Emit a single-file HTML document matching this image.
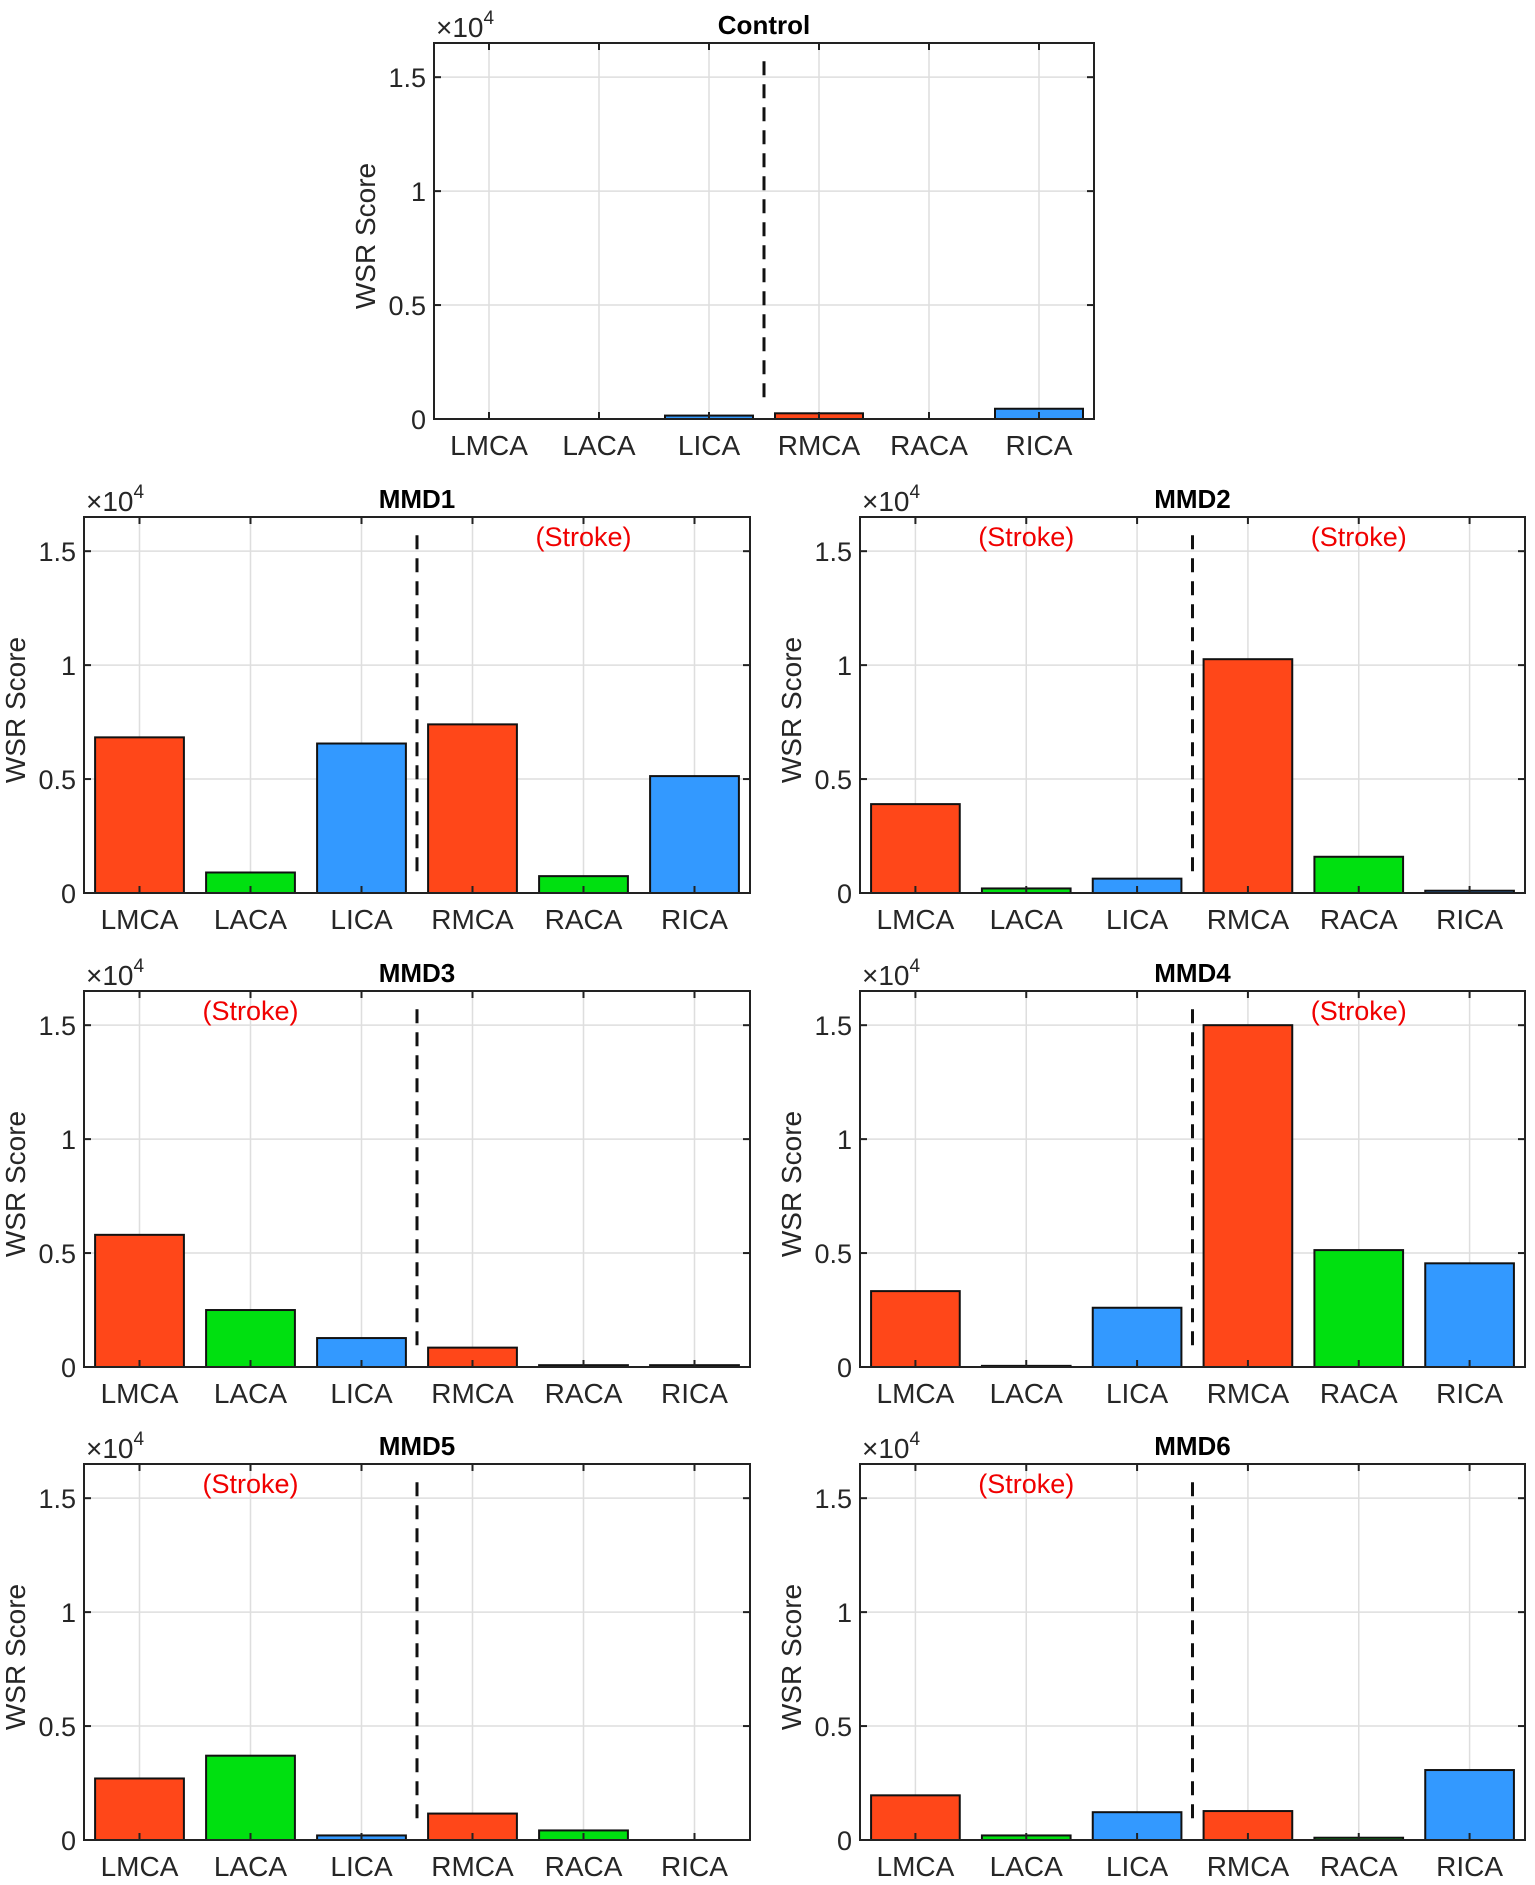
<!DOCTYPE html>
<html><head><meta charset="utf-8"><style>
html,body{margin:0;padding:0;background:#fff;}
svg{display:block;font-family:"Liberation Sans",Arial,sans-serif;}
</style></head><body>
<svg id="fig" width="1535" height="1885" viewBox="0 0 1535 1885" xmlns="http://www.w3.org/2000/svg"></svg>
<script>
const categories = ["LMCA","LACA","LICA","RMCA","RACA","RICA"];
const barColors = ["#FF4719","#00E010","#3399FF","#FF4719","#00E010","#3399FF"];
const yTicks = [0, 5000, 10000, 15000];
const yTickLabels = ["0","0.5","1","1.5"];
const valsControl = [0, 0, 150, 250, 0, 450];
const valsMMD1 = [6830, 900, 6560, 7400, 740, 5130];
const valsMMD2 = [3900, 200, 630, 10260, 1590, 100];
const valsMMD3 = [5800, 2500, 1270, 850, 80, 80];
const valsMMD4 = [3330, 50, 2600, 15000, 5130, 4550];
const valsMMD5 = [2700, 3700, 200, 1160, 420, 0];
const valsMMD6 = [1960, 200, 1220, 1270, 100, 3070];
const panelTitles = ["Control","MMD1","MMD2","MMD3","MMD4","MMD5","MMD6"];
const panelValues = [valsControl,valsMMD1,valsMMD2,valsMMD3,valsMMD4,valsMMD5,valsMMD6];
const strokeCats = [[],[4],[1,4],[1],[4],[1],[1]];
const yMax = 16500;

const panels = [
 {x0:434,x1:1094,y0:43,y1:419},
 {x0:84,x1:750,y0:517,y1:893},
 {x0:860,x1:1525,y0:517,y1:893},
 {x0:84,x1:750,y0:991,y1:1367},
 {x0:860,x1:1525,y0:991,y1:1367},
 {x0:84,x1:750,y0:1464,y1:1840},
 {x0:860,x1:1525,y0:1464,y1:1840}
];
const NS="http://www.w3.org/2000/svg";
const svg=document.getElementById('fig');
function mk(tag,attrs,parent,text){const e=document.createElementNS(NS,tag);for(const k in attrs)e.setAttribute(k,attrs[k]);if(text!==undefined)e.textContent=text;parent.appendChild(e);return e;}

panels.forEach((p,pi)=>{
  const vals=panelValues[pi];
  const g=mk('g',{},svg);
  
  
  const n=categories.length;
  const xs=c=>p.x0+(c+0.5)*(p.x1-p.x0)/n;
  const xsc=v=>p.x0+(v-0.5)*(p.x1-p.x0)/n;
  const ys=v=>p.y1-v/yMax*(p.y1-p.y0);
  const bw=0.8*(p.x1-p.x0)/n;
  yTicks.forEach(t=>{ if(t>0){const l=mk('line',{x1:p.x0,x2:p.x1,y1:ys(t),y2:ys(t),stroke:'#dedede','stroke-width':1.5},g);
    }});
  categories.forEach((c,i)=>{const l=mk('line',{x1:xs(i),x2:xs(i),y1:p.y0,y2:p.y1,stroke:'#dedede','stroke-width':1.5},g);
    });
  vals.forEach((v,i)=>{ if(v<=0) return;
    const r=mk('rect',{x:xs(i)-bw/2,y:ys(v),width:bw,height:p.y1-ys(v),fill:barColors[i],stroke:'#111','stroke-width':2},g);
    
    
  });
  const d=mk('line',{x1:xsc(3.5),x2:xsc(3.5),y1:ys(15700),y2:ys(800),stroke:'#111','stroke-width':3,'stroke-dasharray':'14,9'},g);
  
  const b=mk('rect',{x:p.x0,y:p.y0,width:p.x1-p.x0,height:p.y1-p.y0,fill:'none',stroke:'#222','stroke-width':2},g);
  
  yTicks.forEach((t,i)=>{
    mk('line',{x1:p.x0,x2:p.x0+7,y1:ys(t),y2:ys(t),stroke:'#222','stroke-width':2},g);
    mk('line',{x1:p.x1-7,x2:p.x1,y1:ys(t),y2:ys(t),stroke:'#222','stroke-width':2},g);
    const tl=mk('text',{x:p.x0-8,y:ys(t)+10,'text-anchor':'end','font-size':27,fill:'#262626'},g,yTickLabels[i]);
    
  });
  categories.forEach((c,i)=>{
    mk('line',{x1:xs(i),x2:xs(i),y1:p.y1,y2:p.y1-7,stroke:'#222','stroke-width':2},g);
    mk('line',{x1:xs(i),x2:xs(i),y1:p.y0,y2:p.y0+7,stroke:'#222','stroke-width':2},g);
    const tl=mk('text',{x:xs(i),y:p.y1+36,'text-anchor':'middle','font-size':28,fill:'#262626'},g,c);
    
  });
  const ex=mk('text',{x:p.x0+2,y:p.y0-6,'font-size':28,fill:'#262626'},g,'\u00d710');
  
  mk('tspan',{dy:-13,'font-size':19},ex,'4');
  const ti=mk('text',{x:(p.x0+p.x1)/2,y:p.y0-9,'text-anchor':'middle','font-size':26,'font-weight':'bold',fill:'#000'},g,panelTitles[pi]);
  
  const cy=(p.y0+p.y1)/2+5;
  const yl=mk('text',{x:p.x0-59,y:cy,'text-anchor':'middle','font-size':28,fill:'#262626',transform:`rotate(-90 ${p.x0-59} ${cy})`},g,'WSR Score');
  
  strokeCats[pi].forEach(ci=>{
    const s=mk('text',{x:xs(ci),y:p.y0+29,'text-anchor':'middle','font-size':27,fill:'#F00000'},g,'(Stroke)');
    
  });
});
</script>
</body></html>
